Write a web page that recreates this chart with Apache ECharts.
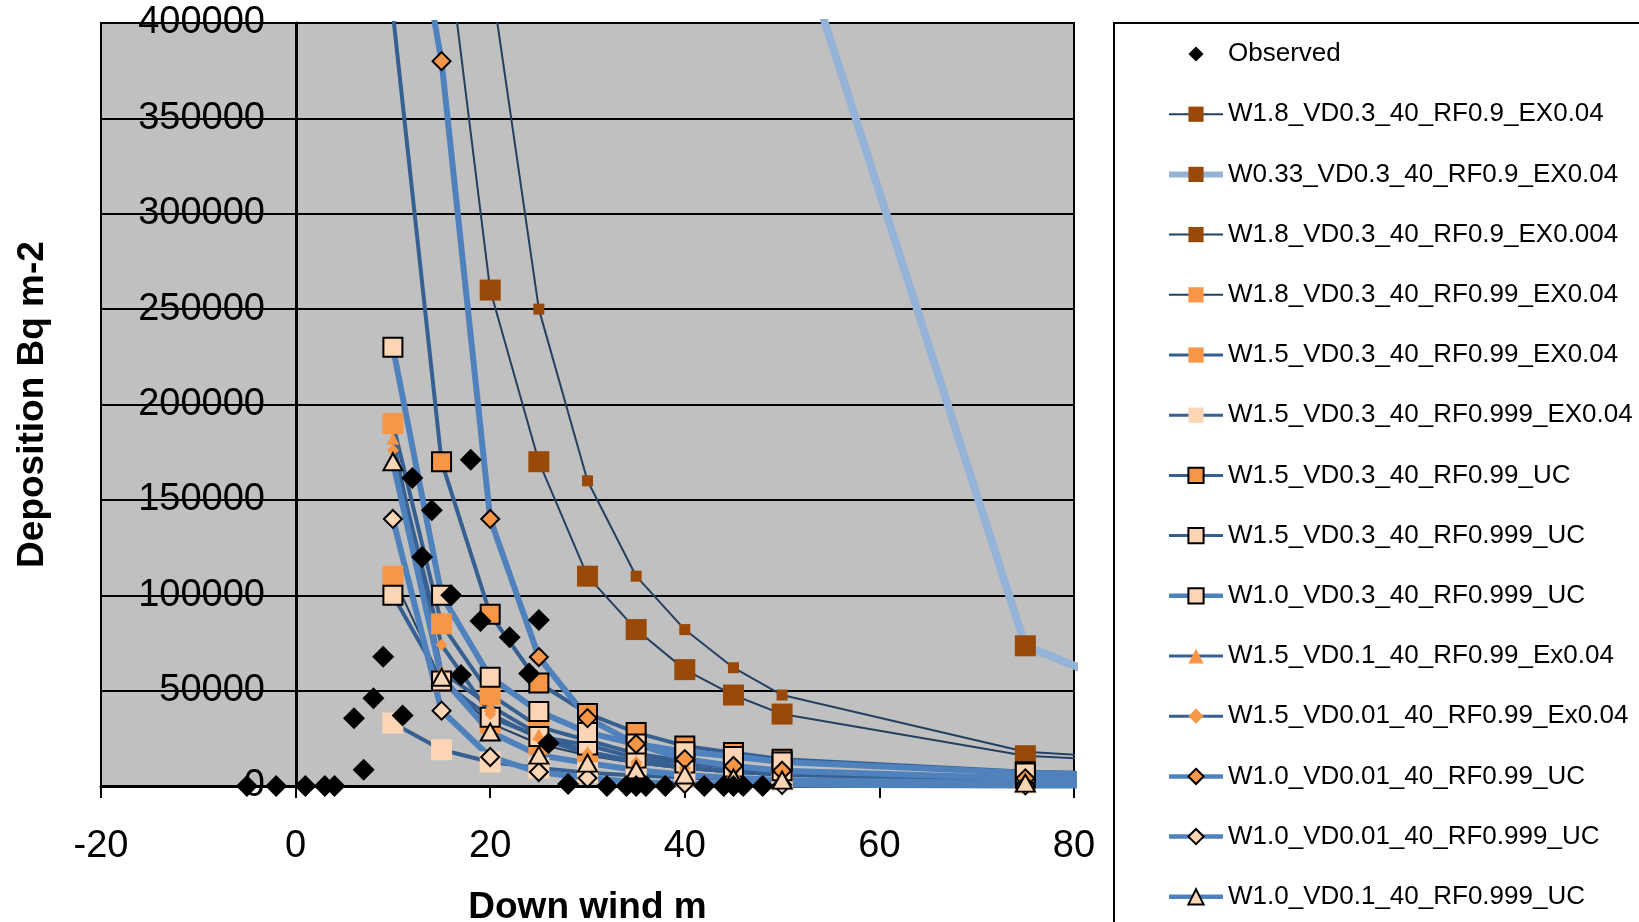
<!DOCTYPE html>
<html><head><meta charset="utf-8">
<script src="https://cdn.jsdelivr.net/npm/echarts@6/dist/echarts.min.js"></script>
<style>html,body{margin:0;padding:0;background:#fff}#c{width:1639px;height:922px}</style>
</head><body><div id="c"></div>
<script>
// ---------- data ----------
const xTickValues = [-20, 0, 20, 40, 60, 80];
const yTickValues = [0, 50000, 100000, 150000, 200000, 250000, 300000, 350000, 400000];

const obsX = [-5,-2,1,3,4,6,7,8,9,11,12,13,14,16,17,18,19,22,24,25,26,28,32,34,35,36,38,42,44,45,46,48];
const obsY = [0,0,0,0,0,35500,8500,46000,67800,37000,161500,120000,144500,100000,58200,171000,86500,78000,59000,87000,22400,1000,0,0,0,0,0,0,0,0,0,0];

const modelX = [10,15,20,25,30,35,40,45,50,75,100];
const W18_VD03_RF09_EX004   = [null,466000,260000,170000,110000,82000,61000,47700,37700,15900,9000];
const W033_VD03_RF09_EX004  = [null,null,null,null,null,null,null,null,470000,73500,22000];
const W18_VD03_RF09_EX0004  = [null,null,426000,250000,160000,110000,82000,62000,47700,18000,10000];
const W18_VD03_RF099_EX004  = [110000,55000,33000,22000,16000,12000,9000,7000,5500,2500,1500];
const W15_VD03_RF099_EX004  = [190000,85000,48000,31000,24000,17000,13000,10000,8000,3500,2000];
const W15_VD03_RF0999_EX004 = [33000,19000,12600,9500,7000,5500,4500,3500,3000,1500,1000];
const W15_VD03_RF099_UC     = [405000,170000,90000,54000,38000,28000,21000,17500,14000,7500,5000];
const W15_VD03_RF0999_UC    = [100000,55000,36000,26000,21500,14700,12000,10000,8000,4000,2500];
const W10_VD03_RF0999_UC    = [230000,100000,57000,39000,28000,22000,18000,15500,12600,6800,4500];
const W15_VD01_RF099_EX004  = [182000,60000,42000,27000,18000,13000,10000,8000,6500,2800,1700];
const W15_VD001_RF099_EX004 = [176000,74000,37700,25000,17000,12500,9500,7500,6000,2500,1500];
const W10_VD001_RF099_UC    = [525000,380000,140000,67600,35600,22000,14100,10500,8000,4000,2500];
const W10_VD001_RF0999_UC   = [140000,39500,15200,7300,4200,2000,1200,800,600,300,200];
const W10_VD01_RF0999_UC    = [170000,57000,28300,16200,12000,8400,5800,4200,3100,1500,900];

// ---------- styles ----------
const FONT = "'Liberation Sans', Arial, sans-serif";
const BROWN = '#984807', ORANGE = '#F79646', PEACH = '#FCD5B5';
const THIN = {c:'#243F60', w:2}, MED = {c:'#376092', w:4}, THICK = {c:'#4F81BD', w:6}, LIGHT = {c:'#95B3D7', w:8};

function model(name, vals, line, symbol, size, fill, border) {
  return {
    type: 'line', name: name,
    data: modelX.map((x, i) => [x, vals[i]]).filter(d => d[1] != null),
    symbol: symbol, symbolSize: size, showSymbol: true, showAllSymbol: true,
    lineStyle: {color: line.c, width: line.w},
    itemStyle: {color: fill, borderColor: border ? '#000' : fill, borderWidth: border ? 2 : 0, opacity: 1},
    clip: true, silent: true, animation: false,
    emphasis: {disabled: true}
  };
}

const series = [
  {type: 'line', name: 'Observed', data: obsX.map((x, i) => [x, obsY[i]]),
   symbol: 'diamond', symbolSize: 22, showSymbol: true, showAllSymbol: true,
   lineStyle: {width: 0, opacity: 0}, itemStyle: {color: '#000', opacity: 1},
   z: 5, silent: true, animation: false, clip: true, emphasis: {disabled: true}},
  model('W1.8_VD0.3_40_RF0.9_EX0.04', W18_VD03_RF09_EX004, THIN, 'rect', 21, BROWN, false),
  model('W0.33_VD0.3_40_RF0.9_EX0.04', W033_VD03_RF09_EX004, LIGHT, 'rect', 21, BROWN, false),
  model('W1.8_VD0.3_40_RF0.9_EX0.004', W18_VD03_RF09_EX0004, THIN, 'rect', 11, BROWN, false),
  model('W1.8_VD0.3_40_RF0.99_EX0.04', W18_VD03_RF099_EX004, THIN, 'rect', 21, ORANGE, false),
  model('W1.5_VD0.3_40_RF0.99_EX0.04', W15_VD03_RF099_EX004, MED, 'rect', 21, ORANGE, false),
  model('W1.5_VD0.3_40_RF0.999_EX0.04', W15_VD03_RF0999_EX004, MED, 'rect', 21, PEACH, false),
  model('W1.5_VD0.3_40_RF0.99_UC', W15_VD03_RF099_UC, MED, 'rect', 19, ORANGE, true),
  model('W1.5_VD0.3_40_RF0.999_UC', W15_VD03_RF0999_UC, MED, 'rect', 19, PEACH, true),
  model('W1.0_VD0.3_40_RF0.999_UC', W10_VD03_RF0999_UC, THICK, 'rect', 19, PEACH, true),
  model('W1.5_VD0.1_40_RF0.99_Ex0.04', W15_VD01_RF099_EX004, MED, 'triangle', [13, 12], ORANGE, false),
  model('W1.5_VD0.01_40_RF0.99_Ex0.04', W15_VD001_RF099_EX004, MED, 'diamond', 12, ORANGE, false),
  model('W1.0_VD0.01_40_RF0.99_UC', W10_VD001_RF099_UC, THICK, 'diamond', 18, ORANGE, true),
  model('W1.0_VD0.01_40_RF0.999_UC', W10_VD001_RF0999_UC, THICK, 'diamond', 18, PEACH, true),
  model('W1.0_VD0.1_40_RF0.999_UC', W10_VD01_RF0999_UC, THICK, 'triangle', [19, 17], PEACH, true)
];

const legendData = series.map((s, i) => {
  const item = {name: s.name};
  if (i === 0) {
    item.lineStyle = {width: 0, opacity: 0};
  } else {
    item.lineStyle = {width: Math.max(2, s.lineStyle.width * 0.75), color: s.lineStyle.color};
  }
  return item;
});

const chart = echarts.init(document.getElementById('c'), null, {renderer: 'canvas'});
chart.setOption({
  animation: false,
  backgroundColor: '#fff',
  textStyle: {fontFamily: FONT},
  grid: {left: 101, top: 23, width: 973, height: 763, containLabel: false, outerBoundsMode: 'none',
         show: true, backgroundColor: '#C0C0C0', borderColor: '#000', borderWidth: 2},
  xAxis: {
    type: 'value', min: xTickValues[0], max: xTickValues[xTickValues.length - 1], interval: 20,
    axisLine: {show: true, onZero: true, lineStyle: {color: '#000', width: 3}},
    axisTick: {show: true, length: 12, lineStyle: {color: '#000', width: 2}},
    axisLabel: {fontSize: 38, color: '#000', margin: 42, fontFamily: FONT, formatter: v => String(v)},
    splitLine: {show: false},
    name: 'Down wind m', nameLocation: 'middle', nameGap: 103, nameMoveOverlap: false,
    nameTextStyle: {fontSize: 37, fontWeight: 'bold', color: '#000', fontFamily: FONT}
  },
  yAxis: {
    type: 'value', min: yTickValues[0], max: yTickValues[yTickValues.length - 1], interval: 50000,
    position: 'left', offset: -195,
    axisLine: {show: true, onZero: false, lineStyle: {color: '#000', width: 3}},
    axisTick: {show: true, length: 10, lineStyle: {color: '#000', width: 2}},
    axisLabel: {fontSize: 38, color: '#000', margin: 31, fontFamily: FONT, formatter: v => String(v)},
    splitLine: {show: true, lineStyle: {color: '#000', width: 2}},
    name: 'Deposition Bq m-2', nameLocation: 'middle', nameGap: 245, nameRotate: 90, nameMoveOverlap: false,
    nameTextStyle: {fontSize: 37, fontWeight: 'bold', color: '#000', fontFamily: FONT}
  },
  legend: {
    orient: 'vertical', left: 1114, top: 23, height: 1400,
    padding: [16, 40, 60, 52], itemWidth: 54, itemHeight: 19, itemGap: 30.2,
    symbolKeepAspect: true,
    textStyle: {fontSize: 26, lineHeight: 30, color: '#000', fontFamily: FONT},
    borderColor: '#000', borderWidth: 2, backgroundColor: '#fff',
    selectedMode: false,
    data: legendData
  },
  series: series
});
</script>
</body></html>
